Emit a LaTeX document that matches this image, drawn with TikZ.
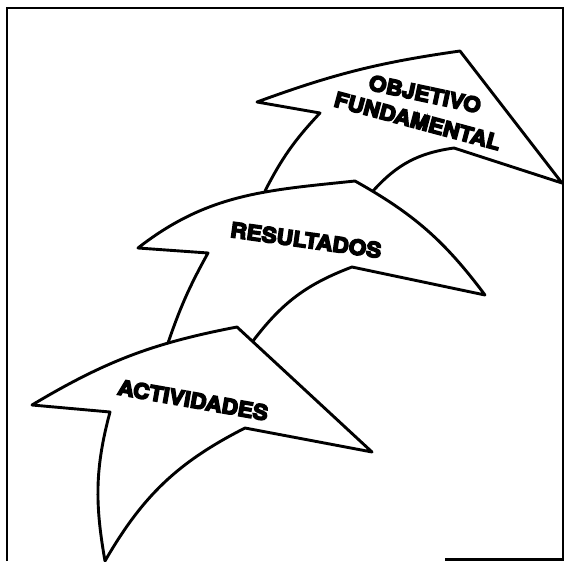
\documentclass[tikz,border=0pt]{standalone}
\usepackage{fontspec}
\setmainfont{TeX Gyre Heros}
\newfontfamily\lblfont{TeX Gyre Heros Bold}[FakeBold=7, FakeStretch=1.08]
\usepackage{tkz-euclide}

\begin{document}
\begin{tikzpicture}[scale=0.3515,
        arrowline/.style={line width=2.9pt, line join=round, line cap=round},
        lbl/.style={font=\lblfont\fontsize{21}{23}\selectfont, inner sep=0pt}]
            \useasboundingbox (0,0) rectangle (57.2,56.1);
            \tkzDefPoints{0.7/0/FA, 0.7/55.3/FB, 56.3/55.3/FC, 56.3/0.15/FD, 44.5/0.15/FE}
            \tkzDefPoints{25.7/45.9/OBarb, 46.0/51.0/OTip, 56.2/37.8/ORight, 45.4/41.3/ONotch,
                37.3/37.0/OOutE, 32.0/44.8/OBarbIn, 26.5/37.0/OInE}
            \tkzDefPoints{13.8/31.3/RBarb, 35.5/38.0/RTip, 48.5/26.6/RRight, 35.2/29.4/RNotch,
                25.3/22.0/ROutE, 20.8/30.8/RBarbIn, 16.8/21.8/RInE}
            \tkzDefPoints{3.2/15.6/ABarb, 23.7/23.4/ATip, 37.2/10.9/ARight, 24.5/13.3/ANotch,
                10.5/0.0/ABottom, 11.0/14.9/ABarbIn}
            % frame
            \draw[line width=2.8pt, line join=miter] (FA) -- (FB) -- (FC) -- (FD) -- (FE);
            % objetivo fundamental
            \draw[arrowline] (OInE) to[bend left=8] (OBarbIn) -- (OBarb)
                to[bend left=6] (OTip) -- (ORight) -- (ONotch) to[bend right=20] (OOutE);
            % resultados
            \draw[arrowline] (RInE) to[bend left=5] (RBarbIn) -- (RBarb)
                to[out=38, in=186] (RTip) to[bend left=12] (RRight) -- (RNotch)
                to[bend right=16] (ROutE);
            % actividades
            \draw[arrowline] (ABottom) to[out=100, in=255] (ABarbIn) -- (ABarb)
                to[bend left=10] (ATip) -- (ARight) -- (ANotch) to[out=207, in=60] (ABottom);
            \node[lbl, rotate=-12] (objA) at (42.5,46.7) {OBJETIVO};
            \node[lbl, rotate=-15] (objB) at (41.75,44.0) {FUNDAMENTAL};
            \node[lbl, rotate=-8] (res) at (30.6,32.1) {RESULTADOS};
            \node[lbl, rotate=-10] (act) at (19.3,16.1) {ACTIVIDADES};
        \end{tikzpicture}
\end{document}
